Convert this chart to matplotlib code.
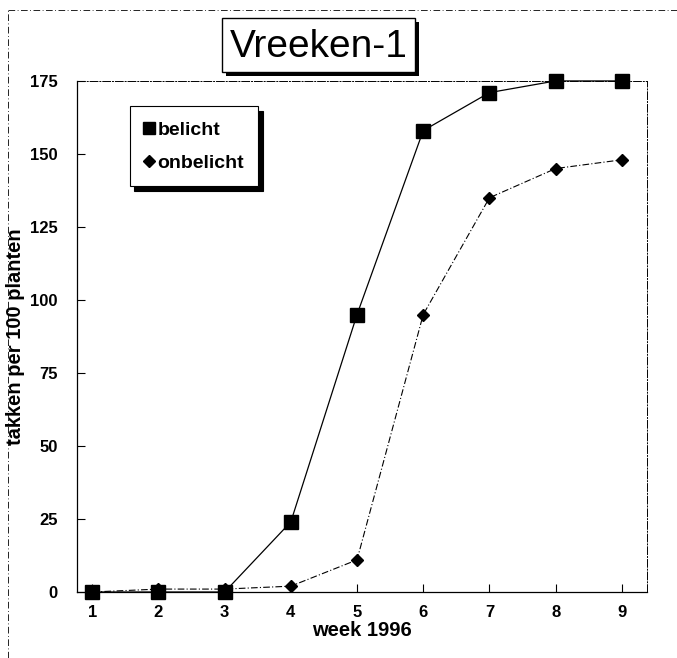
import matplotlib
matplotlib.use("Agg")
from matplotlib import pyplot as plt
from matplotlib.lines import Line2D
from matplotlib.patches import Rectangle

# takken per 100 planten, Vreeken-1, 1996
weeks = [1, 2, 3, 4, 5, 6, 7, 8, 9]
belicht = [0, 0, 0, 24, 95, 158, 171, 175, 175]
onbelicht = [0, 1, 1, 2, 11, 95, 135, 145, 148]
yticks = [0, 25, 50, 75, 100, 125, 150, 175]

plt.rcParams['font.family'] = ['Liberation Sans', 'DejaVu Sans']

fig = plt.figure(figsize=(6.77, 6.58), dpi=100)
ax = fig.add_axes([0.1137, 0.1003, 0.842, 0.7767])

ax.plot(weeks, belicht, color='black', lw=0.9, marker='s', ms=9.5,
        mfc='black', mec='black', clip_on=False, zorder=3)
ax.plot(weeks, onbelicht, color='black', lw=0.8, ls=(0, (6, 2, 1, 2)),
        marker='D', ms=6.5, mfc='black', mec='black', clip_on=False, zorder=3)

ax.set_xlim(0.77, 9.38)
ax.set_ylim(0, 175)
ax.set_xticks(weeks)
ax.set_yticks(yticks)
ax.tick_params(direction='in', length=6, width=0.8, labelsize=12)
ax.tick_params(axis='x', pad=9)
ax.tick_params(axis='y', pad=14)
for lab in ax.get_xticklabels() + ax.get_yticklabels():
    lab.set_fontweight('bold')
for s in ['top', 'right']:
    ax.spines[s].set_linestyle((0, (8, 2, 1, 2)))
    ax.spines[s].set_linewidth(0.7)
for s in ['left', 'bottom']:
    ax.spines[s].set_linewidth(0.9)

ax.set_xlabel('week 1996', fontsize=14.5, fontweight='bold', labelpad=1)
ax.set_ylabel('takken per 100 planten', fontsize=14.5, fontweight='bold',
              va='center')
ax.yaxis.set_label_coords(-0.108, 0.5)

handles = [
    Line2D([], [], ls='none', marker='s', ms=9, mfc='black', mec='black'),
    Line2D([], [], ls='none', marker='D', ms=6, mfc='black', mec='black'),
]
leg = ax.legend(handles, ['belicht', 'onbelicht'], loc='upper left',
                bbox_to_anchor=(0.093, 0.95), frameon=True, fancybox=False,
                shadow={'color': 'black', 'alpha': 1, 'ox': 3, 'oy': -3},
                edgecolor='black',
                handlelength=0.5, handletextpad=0.15, borderpad=0.75,
                borderaxespad=0, labelspacing=0.8,
                prop={'weight': 'bold', 'size': 14})
leg.get_frame().set_linewidth(0.8)

# title in a box with shadow
fig.patches.append(Rectangle((0.334, 0.8846), 0.285, 0.082,
                             transform=fig.transFigure, fc='black', ec='none'))
fig.patches.append(Rectangle((0.328, 0.8906), 0.285, 0.082,
                             transform=fig.transFigure, fc='white', ec='black',
                             lw=1.0))
fig.text(0.4705, 0.929, 'Vreeken-1', fontsize=28, ha='center', va='center')

# scan frame
fig.add_artist(Line2D([0.012, 0.012], [0.0, 0.985], color='black', lw=0.6,
                      ls=(0, (8, 3, 1, 3)), transform=fig.transFigure))
fig.add_artist(Line2D([0.012, 1.0], [0.985, 0.985], color='black', lw=0.6,
                      ls=(0, (8, 3, 1, 3)), transform=fig.transFigure))

fig.savefig('out.png', dpi=100)
